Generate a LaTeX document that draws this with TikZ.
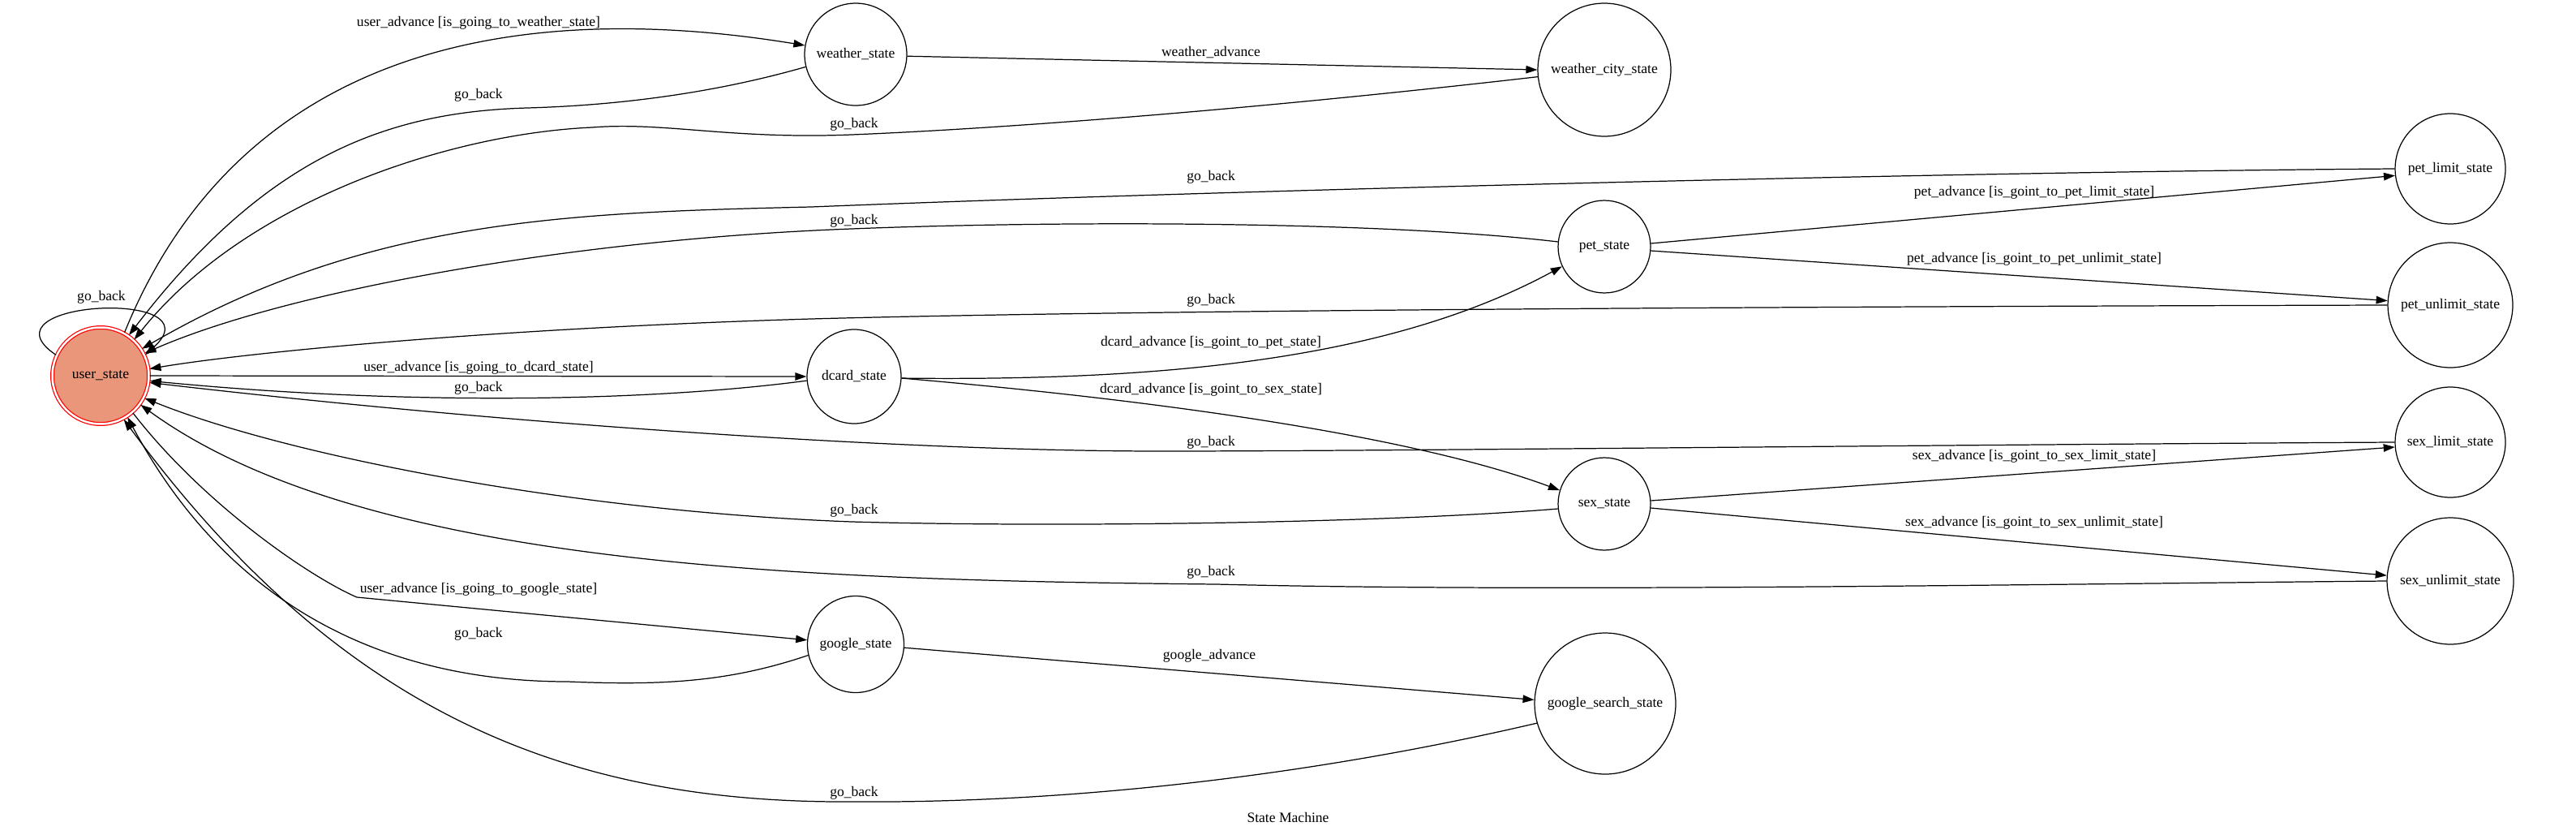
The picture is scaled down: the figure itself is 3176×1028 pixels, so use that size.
\documentclass[tikz,border=0pt]{standalone}
\usepackage{fontspec}
\setmainfont{Liberation Serif}
\usetikzlibrary{arrows.meta}

\definecolor{salmonfill}{HTML}{E9967A}

\begin{document}
\begin{tikzpicture}[x=0.02cm, y=-0.02cm,
    stnode/.style={circle, draw, line width=0.7pt, inner sep=0pt, font=\fontsize{10}{12}\selectfont},
    lbl/.style={inner sep=0pt, font=\fontsize{10}{12}\selectfont},
    trans/.style={line width=0.7pt, -{Triangle[length=0.28cm, width=0.19cm]}}]
                  \useasboundingbox (0,0) rectangle (3176,1028);

                  % Nodes
                  \node[stnode, minimum size=2.38cm, draw=red, double=white, double distance=0.05cm, fill=salmonfill, outer sep=0.03cm] (user) at (124,463) {user\_state};
                  \node[stnode, minimum size=2.52cm] (weather) at (1055,67) {weather\_state};
                  \node[stnode, minimum size=3.28cm] (weathercity) at (1978,86) {weather\_city\_state};
                  \node[stnode, minimum size=2.28cm] (pet) at (1978,304) {pet\_state};
                  \node[stnode, minimum size=2.72cm] (petlimit) at (3021,208) {pet\_limit\_state};
                  \node[stnode, minimum size=3.08cm] (petunlimit) at (3021,376) {pet\_unlimit\_state};
                  \node[stnode, minimum size=2.32cm] (dcard) at (1053,464) {dcard\_state};
                  \node[stnode, minimum size=2.28cm] (sex) at (1978,621) {sex\_state};
                  \node[stnode, minimum size=2.72cm] (sexlimit) at (3021,545) {sex\_limit\_state};
                  \node[stnode, minimum size=3.12cm] (sexunlimit) at (3021,716) {sex\_unlimit\_state};
                  \node[stnode, minimum size=2.38cm] (google) at (1055,794) {google\_state};
                  \node[stnode, minimum size=3.48cm] (googlesearch) at (1979,867) {google\_search\_state};
                  \node[lbl] (title) at (1588,1007) {State Machine};

                  % Arrows
                  \draw[trans] (user.155) .. controls (-30,370) and (270,355) .. (user.25);
                  \draw[trans] (user.61) .. controls (300,50) and (650,0) .. (weather.170);
                  \draw[trans] (weather.194) .. controls (880,115) and (760,130) .. (650,133) .. controls (480,138) and (330,190) .. (user.55);
                  \draw[trans] (weather.-2) -- (weathercity.180);
                  \draw[trans] (weathercity.186) .. controls (1500,140) and (1200,160) .. (1050,166) .. controls (900,172) and (820,150) .. (730,157) .. controls (550,165) and (300,250) .. (user.47);
                  \draw[trans] (petlimit.180) .. controls (2400,212) and (1500,235) .. (1000,255) .. controls (700,262) and (450,270) .. (user.33);
                  \draw[trans] (pet.174) .. controls (1700,272) and (1300,272) .. (1050,282) .. controls (700,295) and (350,360) .. (user.27);
                  \draw[trans] (pet.4) -- (petlimit.187);
                  \draw[trans] (pet.-5) -- (petunlimit.176);
                  \draw[trans] (petunlimit.180) .. controls (2200,378) and (1400,382) .. (1000,393) .. controls (600,405) and (300,435) .. (user.8);
                  \draw[trans] (user.0) -- (dcard.180);
                  \draw[trans] (dcard.185) .. controls (800,495) and (500,500) .. (user.-6);
                  \draw[trans] (dcard.-2) .. controls (1450,470) and (1720,440) .. (pet.205);
                  \draw[trans] (dcard.-2) .. controls (1450,495) and (1750,540) .. (sex.163);
                  \draw[trans] (sexlimit.180) .. controls (2400,548) and (1700,556) .. (1433,556) .. controls (1100,556) and (600,520) .. (user.-8);
                  \draw[trans] (sex.186) .. controls (1700,645) and (1300,650) .. (1050,643) .. controls (700,630) and (350,560) .. (user.-27);
                  \draw[trans] (sex.4) -- (sexlimit.185);
                  \draw[trans] (sex.-5) -- (sexunlimit.175);
                  \draw[trans] (sexunlimit.180) .. controls (2500,720) and (1900,730) .. (1500,720) .. controls (1000,715) and (450,700) .. (user.-36);
                  \draw[trans] (user.-49) .. controls (250,620) and (380,710) .. (440,736) -- (google.175);
                  \draw[trans] (google.193) .. controls (900,840) and (820,845) .. (700,840) .. controls (520,840) and (300,780) .. (user.-57);
                  \draw[trans] (google.-4) -- (googlesearch.177);
                  \draw[trans] (googlesearch.196) .. controls (1600,960) and (1300,990) .. (1050,988) .. controls (700,990) and (420,880) .. (user.-62);

                  % Labels
                  \node[lbl] (lblloop) at (125,366) {go\_back};
                  \node[lbl] (lblweatheradv) at (590,28) {user\_advance [is\_going\_to\_weather\_state]};
                  \node[lbl] (lblweatherback) at (590,117) {go\_back};
                  \node[lbl] (lblcityadv) at (1493,65) {weather\_advance};
                  \node[lbl] (lblcityback) at (1053,153) {go\_back};
                  \node[lbl] (lblpetlimitback) at (1493,218) {go\_back};
                  \node[lbl] (lblpetback) at (1053,272) {go\_back};
                  \node[lbl] (lblpetunlimitback) at (1493,370) {go\_back};
                  \node[lbl] (lblpetlimitadv) at (2508,237) {pet\_advance [is\_goint\_to\_pet\_limit\_state]};
                  \node[lbl] (lblpetunlimitadv) at (2508,319) {pet\_advance [is\_goint\_to\_pet\_unlimit\_state]};
                  \node[lbl] (lbldcardadv) at (590,453) {user\_advance [is\_going\_to\_dcard\_state]};
                  \node[lbl] (lbldcardback) at (590,478) {go\_back};
                  \node[lbl] (lblpetadv) at (1493,422) {dcard\_advance [is\_goint\_to\_pet\_state]};
                  \node[lbl] (lblsexadv) at (1493,480) {dcard\_advance [is\_goint\_to\_sex\_state]};
                  \node[lbl] (lblsexlimitback) at (1493,545) {go\_back};
                  \node[lbl] (lblsexback) at (1053,629) {go\_back};
                  \node[lbl] (lblsexlimitadv) at (2508,562) {sex\_advance [is\_goint\_to\_sex\_limit\_state]};
                  \node[lbl] (lblsexunlimitadv) at (2508,644) {sex\_advance [is\_goint\_to\_sex\_unlimit\_state]};
                  \node[lbl] (lblsexunlimitback) at (1493,705) {go\_back};
                  \node[lbl] (lblgoogleadv) at (590,726) {user\_advance [is\_going\_to\_google\_state]};
                  \node[lbl] (lblgoogleback) at (590,781) {go\_back};
                  \node[lbl] (lblsearchadv) at (1491,808) {google\_advance};
                  \node[lbl] (lblsearchback) at (1053,977) {go\_back};
              \end{tikzpicture}
\end{document}
